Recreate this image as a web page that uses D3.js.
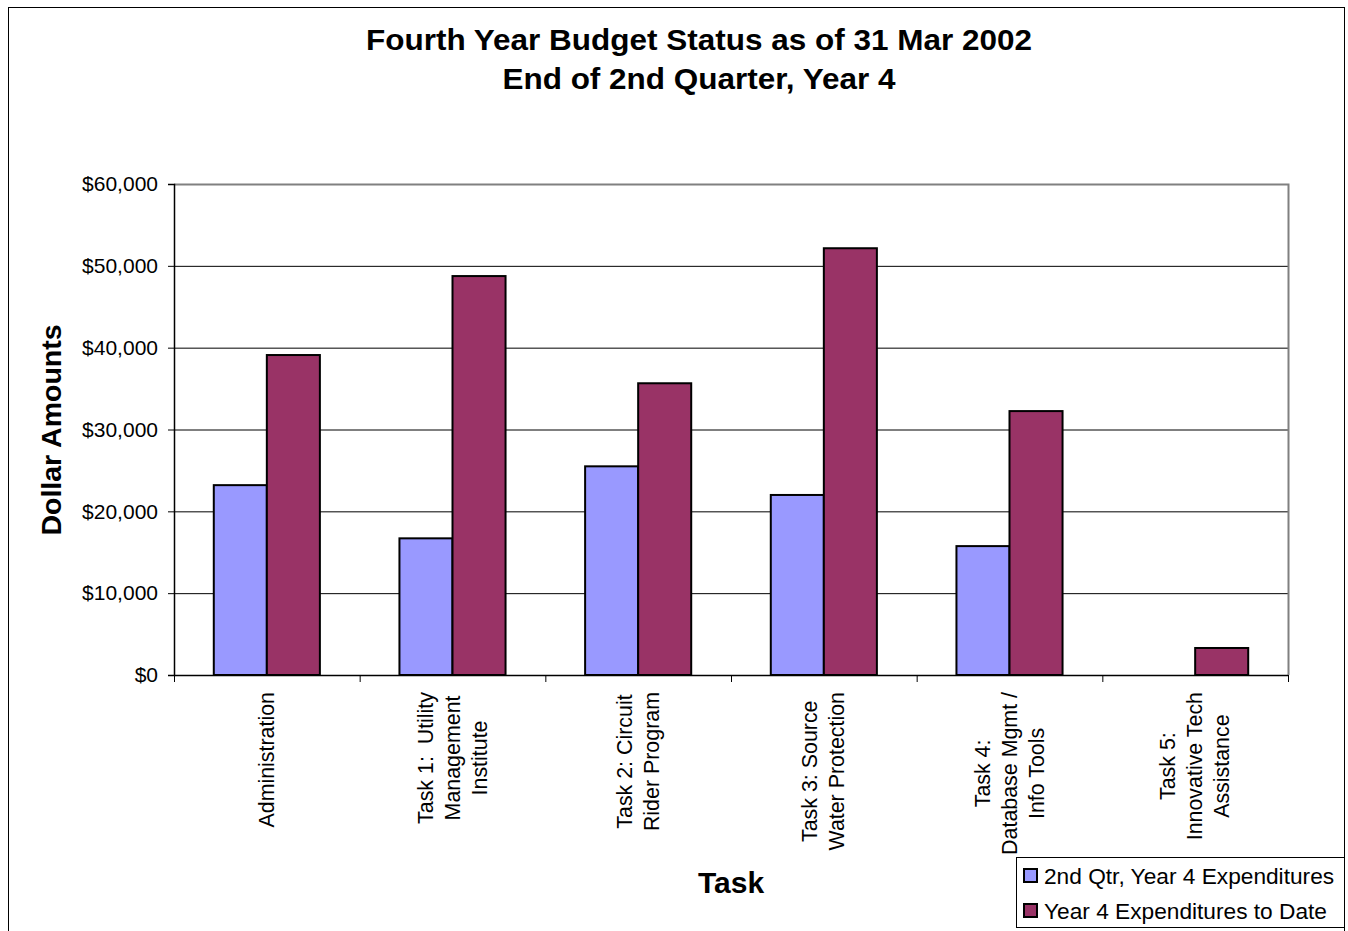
<!DOCTYPE html>
<html>
<head>
<meta charset="utf-8">
<script src="https://cdn.jsdelivr.net/npm/d3@7"></script>
<style>
  body { margin: 0; background: #fff; }
  svg text { font-family: "Liberation Sans", Arial, sans-serif; }
</style>
</head>
<body>
<div id="chart"></div>
<script>
// chart data
const categories = [
  ["Administration"],
  ["Task 1:  Utility", "Management", "Institute"],
  ["Task 2: Circuit", "Rider Program"],
  ["Task 3: Source", "Water Protection"],
  ["Task 4:", "Database Mgmt /", "Info Tools"],
  ["Task 5:", "Innovative Tech", "Assistance"]
];
const seriesNames = ["2nd Qtr, Year 4 Expenditures", "Year 4 Expenditures to Date"];
const qtrValues = [23200, 16700, 25500, 22000, 15750, 0];
const toDateValues = [39100, 48750, 35650, 52150, 32250, 3300];
const yTicks = [0, 10000, 20000, 30000, 40000, 50000, 60000];
const colors = ["#9999FF", "#993366"];

const width = 1348, height = 931;
const plot = { left: 174, right: 1288, top: 184, bottom: 675 };

const svg = d3.select("#chart")
  .append("svg")
  .attr("width", width)
  .attr("height", height);

// outer chart border
svg.append("rect")
  .attr("x", 8.5).attr("y", 7.5)
  .attr("width", 1336).attr("height", 940)
  .attr("fill", "none")
  .attr("stroke", "#000")
  .attr("stroke-width", 1);

const x = d3.scaleBand()
  .domain(d3.range(categories.length))
  .range([plot.left, plot.right])
  .paddingInner(0)
  .paddingOuter(0);

const y = d3.scaleLinear()
  .domain([0, 60000])
  .range([plot.bottom, plot.top]);

// gridlines
svg.append("g")
  .selectAll("line")
  .data(yTicks.slice(1, -1))
  .enter()
  .append("line")
  .attr("x1", plot.left).attr("x2", plot.right)
  .attr("y1", d => y(d) + 0.5).attr("y2", d => y(d) + 0.5)
  .attr("stroke", "#000")
  .attr("stroke-width", 1);

// plot area top + right border (gray)
svg.append("path")
  .attr("d", `M${plot.left},${plot.top + 0.5}H${plot.right + 0.5}V${plot.bottom}`)
  .attr("fill", "none")
  .attr("stroke", "#808080")
  .attr("stroke-width", 2);

// bars
const barW = x.bandwidth() / 3.5;
const groups = svg.append("g")
  .selectAll("g")
  .data(categories.map((c, i) => i))
  .enter()
  .append("g")
  .attr("transform", i => `translate(${x(i) + barW * 0.75},0)`);

[qtrValues, toDateValues].forEach((vals, s) => {
  groups.filter(i => vals[i] > 0)
    .append("rect")
    .attr("x", s * barW)
    .attr("y", i => y(vals[i]))
    .attr("width", barW)
    .attr("height", i => y(0) - y(vals[i]))
    .attr("fill", colors[s])
    .attr("stroke", "#000")
    .attr("stroke-width", 2);
});

// y axis
const yAxis = svg.append("g")
  .attr("transform", `translate(${plot.left},0)`)
  .call(d3.axisLeft(y)
    .tickValues(yTicks)
    .tickSize(6)
    .tickPadding(10)
    .tickFormat(d => "$" + d3.format(",")(d)));
yAxis.select(".domain").attr("stroke", "#000").attr("stroke-width", 1.5);
yAxis.selectAll(".tick line").attr("stroke", "#000");
yAxis.selectAll("text")
  .attr("font-size", 21)
  .attr("fill", "#000")
  .style("font-family", "'Liberation Sans', Arial, sans-serif");

// x axis line and ticks at category boundaries
const xAxis = svg.append("g");
xAxis.append("line")
  .attr("x1", plot.left).attr("x2", plot.right)
  .attr("y1", plot.bottom + 0.5).attr("y2", plot.bottom + 0.5)
  .attr("stroke", "#000").attr("stroke-width", 1.5);
xAxis.selectAll(".xtick")
  .data(d3.range(categories.length + 1))
  .enter()
  .append("line")
  .attr("class", "xtick")
  .attr("x1", i => (i < categories.length ? x(i) : plot.right) + 0.5)
  .attr("x2", i => (i < categories.length ? x(i) : plot.right) + 0.5)
  .attr("y1", plot.bottom)
  .attr("y2", plot.bottom + 7)
  .attr("stroke", "#000");

// category labels, rotated
const lineH = 27;
categories.forEach((lines, i) => {
  const cx = x(i) + x.bandwidth() / 2;
  const t = svg.append("text")
    .attr("font-size", 21.4)
    .attr("fill", "#000")
    .attr("text-anchor", "middle")
    .style("white-space", "pre");
  lines.forEach((ln, k) => {
    t.append("tspan")
      .attr("x", 0)
      .attr("y", (k - (lines.length - 1) / 2) * lineH + 7)
      .text(ln);
  });
  const maxW = d3.max(t.selectAll("tspan").nodes(), n => n.getComputedTextLength());
  t.attr("transform", `translate(${cx},${692 + maxW / 2}) rotate(-90)`);
});

// titles (slightly stretched horizontally like the original)
svg.append("text")
  .attr("transform", "translate(699,50) scale(1.086,1)")
  .attr("text-anchor", "middle")
  .attr("font-size", 29).attr("font-weight", "bold")
  .text("Fourth Year Budget Status as of 31 Mar 2002");
svg.append("text")
  .attr("transform", "translate(699,89) scale(1.086,1)")
  .attr("text-anchor", "middle")
  .attr("font-size", 29).attr("font-weight", "bold")
  .text("End of 2nd Quarter, Year 4");

svg.append("text")
  .attr("transform", "translate(61,430) rotate(-90)")
  .attr("text-anchor", "middle")
  .attr("font-size", 28.5).attr("font-weight", "bold")
  .text("Dollar Amounts");

svg.append("text")
  .attr("x", 731).attr("y", 893)
  .attr("text-anchor", "middle")
  .attr("font-size", 30).attr("font-weight", "bold")
  .text("Task");

// legend
const legend = svg.append("g").attr("transform", "translate(1016,857)");
legend.append("rect")
  .attr("x", 0.5).attr("y", 0.5)
  .attr("width", 328).attr("height", 70)
  .attr("fill", "#fff")
  .attr("stroke", "#000");
seriesNames.forEach((name, s) => {
  const g = legend.append("g").attr("transform", `translate(0,${s * 35})`);
  g.append("rect")
    .attr("x", 8).attr("y", 12)
    .attr("width", 13).attr("height", 13)
    .attr("fill", colors[s])
    .attr("stroke", "#000")
    .attr("stroke-width", 2);
  g.append("text")
    .attr("x", 28).attr("y", 26.5)
    .attr("font-size", 22.7)
    .attr("fill", "#000")
    .text(name);
});
</script>
</body>
</html>
